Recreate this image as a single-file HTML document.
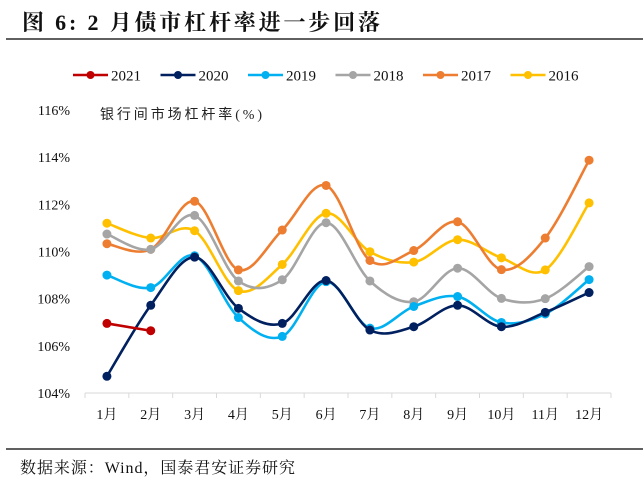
<!DOCTYPE html>
<html><head><meta charset="utf-8"><style>
body{margin:0;background:#fff;width:643px;height:492px;overflow:hidden;font-family:"Liberation Serif","Noto Serif CJK SC",serif}
</style></head><body>
<svg width="643" height="492" xmlns="http://www.w3.org/2000/svg">
<text x="22" y="30" font-size="22" font-weight="bold" textLength="358" lengthAdjust="spacing" font-family="Liberation Serif, Noto Serif CJK SC, serif" fill="#111">图 6: 2 月债市杠杆率进一步回落</text>
<line x1="6" y1="39" x2="643" y2="39" stroke="#000" stroke-width="1.3"/>
<g id="legend"></g>
<text x="100" y="119" font-size="14" fill="#222" textLength="162" lengthAdjust="spacing" font-family="Liberation Serif, Noto Sans CJK SC, serif">银行间市场杠杆率(%)</text>
<g id="yticks"></g>
<g id="xaxis"></g>
<g id="series"></g>
<line x1="6" y1="449" x2="643" y2="449" stroke="#000" stroke-width="1.3"/>
<text x="20" y="473" font-size="16" fill="#111" textLength="275" lengthAdjust="spacing" font-family="Liberation Serif, Noto Serif CJK SC, serif">数据来源：Wind，国泰君安证券研究</text>
</svg>
<script>
const months=["1月","2月","3月","4月","5月","6月","7月","8月","9月","10月","11月","12月"];
const yTicks=[104,106,108,110,112,114,116];
const years=["2021","2020","2019","2018","2017","2016"];
const colors=["#C00000","#002060","#00B0F0","#A5A5A5","#ED7D31","#FFC000"];
const s2021=[106.95,106.64];
const s2020=[104.71,107.72,109.76,107.59,106.95,108.77,106.67,106.81,107.72,106.81,107.42,108.26];
const s2019=[109.0,108.47,109.82,107.2,106.4,108.72,106.75,107.67,108.09,106.99,107.35,108.81];
const s2018=[110.74,110.09,111.53,108.75,108.8,111.22,108.75,107.87,109.29,108.01,108.0,109.36];
const s2017=[110.33,110.09,112.13,109.22,110.91,112.8,109.62,110.04,111.26,109.23,110.57,113.87];
const s2016=[111.2,110.57,110.88,108.34,109.45,111.62,109.99,109.55,110.5,109.73,109.22,112.06];
const data=[s2021,s2020,s2019,s2018,s2017,s2016];
const NS="http://www.w3.org/2000/svg";
const x0=85,x1=611,yb=393,yt=110;
const step=(x1-x0)/months.length;
const X=i=>x0+step*(i+0.5);
const Y=v=>yb-(v-104)/(116-104)*(yb-yt);
function mk(t,a,p){const e=document.createElementNS(NS,t);for(const k in a)e.setAttribute(k,a[k]);p.appendChild(e);return e;}
const yg=document.getElementById('yticks');
yTicks.forEach(v=>{const t=mk('text',{x:70,y:Y(v)+5,'font-size':14,'text-anchor':'end',fill:'#111'},yg);t.textContent=v+'%';

});
const xg=document.getElementById('xaxis');
const ax=mk('line',{x1:x0,y1:yb,x2:x1,y2:yb,stroke:'#d9d9d9','stroke-width':1},xg);


for(let i=0;i<=months.length;i++){const tk=mk('line',{x1:x0+step*i,y1:yb,x2:x0+step*i,y2:yb+5,stroke:'#d9d9d9'},xg);

}
months.forEach((m,i)=>{const t=mk('text',{x:X(i),y:419,'font-size':14,'text-anchor':'middle',fill:'#111'},xg);t.textContent=m;

});
function smooth(pts){if(pts.length<3)return 'M'+pts.map(p=>p.join(',')).join('L');
let d='M'+pts[0].join(',');for(let i=0;i<pts.length-1;i++){const p0=pts[i-1]||pts[i],p1=pts[i],p2=pts[i+1],p3=pts[i+2]||p2;
const c1=[p1[0]+(p2[0]-p0[0])/6,p1[1]+(p2[1]-p0[1])/6],c2=[p2[0]-(p3[0]-p1[0])/6,p2[1]-(p3[1]-p1[1])/6];
d+='C'+c1.join(',')+' '+c2.join(',')+' '+p2.join(',');}return d;}
const sg=document.getElementById('series');
for(let k=data.length-1;k>=0;k--){const g=mk('g',{},sg);


const pts=data[k].map((v,i)=>[X(i),Y(v)]);
const p=mk('path',{d:smooth(pts),fill:'none',stroke:colors[k],'stroke-width':2.6},g);


pts.forEach(q=>{const c=mk('circle',{cx:q[0],cy:q[1],r:4.5,fill:colors[k]},g);

});}
const lg=document.getElementById('legend');
years.forEach((y,k)=>{const bx=73+k*87.5;const g=mk('g',{},lg);


mk('line',{x1:bx,y1:75,x2:bx+35,y2:75,stroke:colors[k],'stroke-width':2.6},g);
mk('circle',{cx:bx+17.5,cy:75,r:4,fill:colors[k]},g);
const t=mk('text',{x:bx+38,y:80.5,'font-size':15,fill:'#111'},g);t.textContent=y;});
</script>
</body></html>
